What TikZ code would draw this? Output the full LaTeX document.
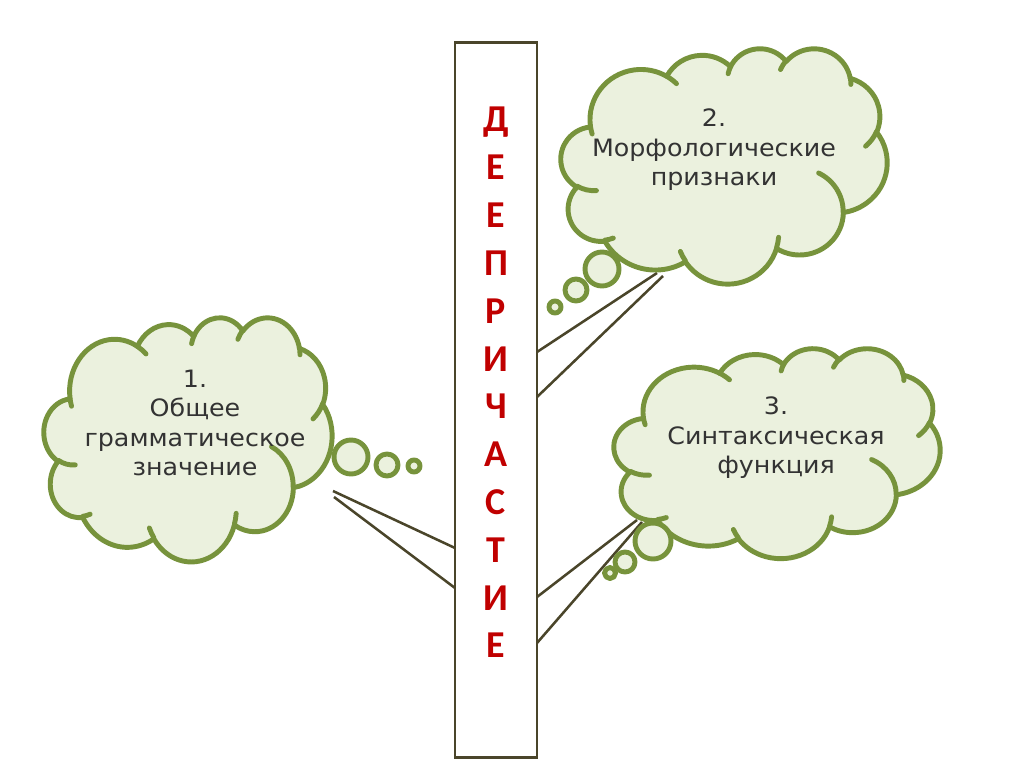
\documentclass[tikz,border=0pt]{standalone}
\usepackage{fontspec}
\usepackage{xcolor}
\usepackage{tikz}
\setmainfont{DejaVu Sans}
\newfontfamily\cloudfont[FakeStretch=1.06]{DejaVu Sans}
\newfontfamily\barfont{Carlito}

\definecolor{cloudfill}{HTML}{EBF1DE}
\definecolor{cloudline}{HTML}{77933C}
\definecolor{barline}{HTML}{4A452A}
\definecolor{barred}{HTML}{C00000}
\definecolor{cloudtext}{HTML}{333333}

% visual angle -> parametric angle on an ellipse
\makeatletter
\pgfmathdeclarefunction{vp}{3}{%
  \begingroup
    \pgfmathsetmacro\vpd{atan2((#2)*sin(#1),(#3)*cos(#1))-(#1)}%
    \pgfmathparse{(#1)+\vpd-360*round(\vpd/360)}%
    \pgfmath@smuggleone\pgfmathresult
  \endgroup}
\makeatother

\newcommand\puff[4]{arc[x radius=#1, y radius=#2, start angle={vp(#3,#1,#2)}, end angle={vp(#3+#4,#1,#2)}]}

% outline of a cloud in a 100 x 100 box
\newcommand\cloudpath{(9.028,33.264)
  \puff{15.632}{21.273}{-190.4875}{123.7805}
  \puff{12.345}{16.822}{-144.1024}{89.9452}
  \puff{10.104}{13.762}{-145.8079}{99.7230}
  \puff{11.243}{15.266}{-130.9861}{117.2417}
  \puff{12.345}{16.836}{-78.7089}{109.0269}
  \puff{15.683}{21.343}{-46.2673}{130.2690}
  \puff{13.391}{18.211}{0.6250}{114.0333}
  \puff{15.630}{21.331}{22.4516}{115.1726}
  \puff{17.870}{24.405}{66.2426}{75.7110}
  \puff{10.093}{13.699}{-274.9421}{146.7356}
  \puff{10.058}{13.762}{-246.8285}{152.5189}
  -- cycle}

% inner arcs of a cloud
\newcommand\cloudcreases{
  (10.863,60.595) \puff{10.058}{13.762}{86.7420}{26.4295}
  (16.037,80.785) \puff{10.093}{13.699}{73.6105}{11.4475}
  (38.144,90.486) \puff{15.630}{21.331}{137.6242}{14.0811}
  (66.729,80.442) \puff{15.630}{21.331}{6.4533}{15.9984}
  (79.002,53.134) \puff{13.391}{18.211}{-70.2924}{70.9174}
  (96.755,35.542) \puff{12.345}{16.836}{30.3180}{27.7515}
  (88.713,12.560) \puff{11.243}{15.266}{-13.7443}{14.8589}
  (67.310,9.148) \puff{11.243}{15.266}{-149.1815}{18.1954}
  (51.252,10.926) \puff{10.104}{13.762}{-163.4943}{17.6864}
  (32.407,12.019) \puff{15.632}{21.273}{-66.7070}{12.3194}
  (9.553,36.549) \puff{15.632}{21.273}{157.6544}{11.8582}}

\tikzstyle{cloudbody} = [draw=cloudline, line width=3.5pt, line join=round, fill=cloudfill]
\tikzstyle{crease} = [draw=cloudline, line width=3.5pt, line cap=round]
\tikzstyle{link} = [draw=barline, line width=1.8pt]
\tikzstyle{cloudlabel} = [font=\cloudfont\fontsize{17}{21}\selectfont, text=cloudtext, align=center]
\tikzstyle{barletter} = [font=\barfont\bfseries\fontsize{27}{30}\selectfont, text=barred, anchor=base]

% cloud at left, top, width, height (pixels)
\newcommand\thoughtcloud[4]{%
  \begin{scope}[shift={(#1,#2)}, x={(#3*0.00025cm,0)}, y={(0,-#4*0.00025cm)}]
    \path[cloudbody] \cloudpath;
    \path[crease] \cloudcreases;
  \end{scope}}

\begin{document}
\begin{tikzpicture}[x=0.025cm, y=-0.025cm]
    \useasboundingbox (0,0) rectangle (1024,767);

    % The bar
    \node[draw=barline, line width=2.1pt, minimum width=2.05cm, minimum height=17.85cm, inner sep=0pt] (bar) at (496,400) {};
    \foreach \l [count=\i from 0] in {Д,Е,Е,П,Р,И,Ч,А,С,Т,И,Е}
        \node[barletter] (let\i) at (496,{132+47.8*\i}) {\l};

    % Connector ends
    \coordinate (g1a) at (333,491);
    \coordinate (g1b) at (334,497);
    \coordinate (g2a) at (657,273);
    \coordinate (g2b) at (663,276);
    \coordinate (g3a) at (637,520);
    \coordinate (g3b) at (642,522);
    \coordinate (bar1a) at (455,548);
    \coordinate (bar1b) at (455,588);
    \coordinate (bar2a) at (537,352);
    \coordinate (bar2b) at (537,397);
    \coordinate (bar3a) at (537,597);
    \coordinate (bar3b) at (537,643);

    % Connectors
    \draw[link] (g1a) -- (bar1a);
    \draw[link] (g1b) -- (bar1b);
    \draw[link] (g2a) -- (bar2a);
    \draw[link] (g2b) -- (bar2b);
    \draw[link] (g3a) -- (bar3a);
    \draw[link] (g3b) -- (bar3b);

    % Clouds
    \thoughtcloud{44}{317}{295}{250}
    \thoughtcloud{561}{48}{334}{241}
    \thoughtcloud{614}{348}{334}{215}

    % Bubbles
    \draw[cloudbody] (351,457) circle[radius=17];
    \draw[cloudbody] (387,465) circle[radius=11];
    \draw[cloudbody] (414,466) circle[radius=6];
    \draw[cloudbody] (602,269) circle[radius=17];
    \draw[cloudbody] (576,290) circle[radius=11];
    \draw[cloudbody] (555,307) circle[radius=6];
    \draw[cloudbody] (653,541) circle[radius=18];
    \draw[cloudbody] (625,562) circle[radius=10];
    \draw[cloudbody] (610,573) circle[radius=5.5];

    % Labels
    \node[cloudlabel] (txt1) at (195,423) {1.\\Общее\\грамматическое\\значение};
    \node[cloudlabel] (txt2) at (714,150) {2.\\Морфологические\\признаки};
    \node[cloudlabel] (txt3) at (776,438) {3.\\Синтаксическая\\функция};
\end{tikzpicture}
\end{document}
